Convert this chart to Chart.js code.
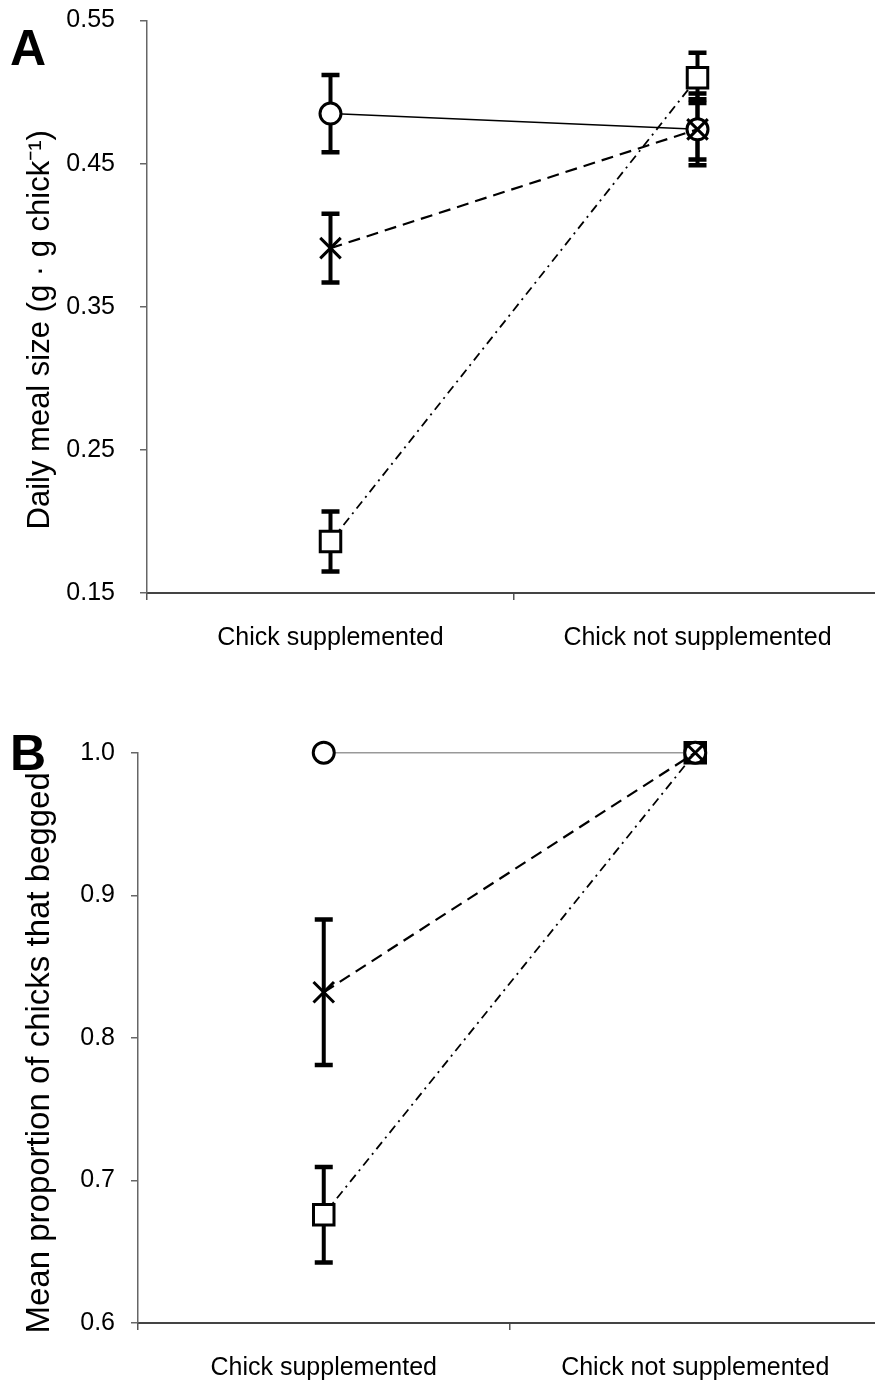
<!DOCTYPE html>
<html>
<head>
<meta charset="utf-8">
<script src="https://cdn.jsdelivr.net/npm/chart.js@4.4.1/dist/chart.umd.min.js"></script>
<style>
  body { margin: 0; background: #fff; overflow: hidden; }
  #wrap { position: relative; width: 882px; height: 1385px; }
  canvas { position: absolute; left: 0; display: block; }
  #chartA { top: 0; }
  #chartB { top: 690px; }
  .tag { position: absolute; left: 10px; font: bold 50px "Liberation Sans", Arial, sans-serif; line-height: 50px; color: #000; }
</style>
</head>
<body>
<div id="wrap">
  <canvas id="chartA" width="882" height="690"></canvas>
  <canvas id="chartB" width="882" height="695"></canvas>
  <div class="tag" style="top:23px">A</div>
  <div class="tag" style="top:728px">B</div>
</div>
<script>
// =======================
// DATA
// =======================
const categories = ["Chick supplemented", "Chick not supplemented"];

// panel A - daily meal size
const ticksA = [0.15, 0.25, 0.35, 0.45, 0.55];
const mealCircle = [0.485, 0.474];
const mealCircleErr = [0.027, 0.021];
const mealCross = [0.391, 0.474];
const mealCrossErr = [0.024, 0.025];
const mealSquare = [0.186, 0.510];
const mealSquareErr = [0.021, 0.0175];

// panel B - proportion that begged
const ticksB = [0.6, 0.7, 0.8, 0.9, 1.0];
const begCircle = [1.0, 1.0];
const begCross = [0.832, 1.0];
const begCrossErr = [0.051, 0];
const begSquare = [0.676, 1.0];
const begSquareErr = [0.0335, 0];

const FONT = "'Liberation Sans', Arial, sans-serif";

// =======================
// ERROR BAR PLUGIN
// =======================
const errorBars = {
    id: "errorBars",
    beforeDatasetsDraw(chart) {
        const ctx = chart.ctx;
        const y = chart.scales.y;
        chart.data.datasets.forEach((ds, di) => {
            if (!ds.errors) return;
            const meta = chart.getDatasetMeta(di);
            ds.data.forEach((v, i) => {
                const e = ds.errors[i];
                if (!e) return;
                const x = meta.data[i].x;
                const top = y.getPixelForValue(v + e);
                const bot = y.getPixelForValue(v - e);
                ctx.save();
                ctx.strokeStyle = "#000";
                ctx.lineWidth = 4;
                ctx.beginPath();
                ctx.moveTo(x, top);
                ctx.lineTo(x, bot);
                ctx.stroke();
                ctx.lineWidth = 4.5;
                ctx.beginPath();
                ctx.moveTo(x - 9, top);
                ctx.lineTo(x + 9, top);
                ctx.moveTo(x - 9, bot);
                ctx.lineTo(x + 9, bot);
                ctx.stroke();
                ctx.restore();
            });
        });
    }
};

// =======================
// ROTATED Y TITLE
// =======================
const sideTitle = {
    id: "sideTitle",
    afterDraw(chart, args, opts) {
        const ctx = chart.ctx;
        const a = chart.chartArea;
        ctx.save();
        ctx.translate(opts.x, (a.top + a.bottom) / 2 + opts.shift);
        ctx.rotate(-Math.PI / 2);
        ctx.textAlign = "center";
        ctx.textBaseline = "middle";
        ctx.fillStyle = "#000";
        ctx.font = opts.size + "px " + FONT;
        ctx.fillText(opts.text, 0, 0);
        ctx.restore();
    }
};

function series(data, errors, style, radius, dash, color, width, order) {
    return {
        data: data,
        errors: errors,
        borderColor: color,
        borderWidth: width,
        borderDash: dash,
        pointStyle: style,
        pointRadius: radius,
        pointBorderWidth: 3,
        pointBorderColor: "#000",
        pointBackgroundColor: "#fff",
        clip: false,
        order: order
    };
}

function makeOptions(yTicks, digits, title, yWidth, xHeight, topPad, tickPad) {
    return {
        responsive: false,
        animation: false,
        layout: { autoPadding: false, padding: { top: topPad, right: 1, left: 0, bottom: 0 } },
        plugins: { legend: { display: false }, tooltip: { enabled: false }, sideTitle: title },
        scales: {
            x: {
                type: "category",
                offset: true,
                grid: { offset: true, drawOnChartArea: false, tickLength: 7, color: "#555", lineWidth: 1.5 },
                border: { color: "#444", width: 2 },
                ticks: { color: "#000", padding: 23, font: { family: FONT, size: 25 }, maxRotation: 0 },
                afterFit: s => { s.height = xHeight; s.paddingLeft = 0; s.paddingRight = 0; }
            },
            y: {
                min: yTicks[0],
                max: yTicks[yTicks.length - 1],
                afterBuildTicks: s => { s.ticks = yTicks.map(v => ({ value: v })); },
                grid: { drawOnChartArea: false, tickLength: 7, color: "#666", lineWidth: 1.5 },
                border: { color: "#666", width: 1.5 },
                ticks: {
                    color: "#000",
                    padding: tickPad,
                    font: { family: FONT, size: 25 },
                    callback: v => Number(v).toFixed(digits)
                },
                afterFit: s => { s.width = yWidth; s.paddingTop = 0; s.paddingBottom = 0; }
            }
        }
    };
}

// =======================
// PANEL A
// =======================
new Chart(document.getElementById("chartA"), {
    type: "line",
    data: {
        labels: categories,
        datasets: [
            series(mealSquare, mealSquareErr, "rect", 14.5, [9, 5, 2, 5], "#000", 1.8, 3),
            series(mealCircle, mealCircleErr, "circle", 10.5, [], "#000", 1.5, 2),
            series(mealCross, mealCrossErr, "crossRot", 14.5, [12, 7], "#000", 2.2, 1)
        ]
    },
    options: makeOptions(ticksA, 2,
        { text: "Daily meal size (g \u00b7 g chick\u207b\u00b9)", size: 31, x: 40, shift: 23 },
        147, 97, 20.6, 25),
    plugins: [errorBars, sideTitle]
});

// =======================
// PANEL B
// =======================
new Chart(document.getElementById("chartB"), {
    type: "line",
    data: {
        labels: categories,
        datasets: [
            series(begSquare, begSquareErr, "rect", 14.5, [9, 5, 2, 5], "#000", 1.8, 3),
            series(begCircle, null, "circle", 10.5, [], "#999", 1.5, 2),
            series(begCross, begCrossErr, "crossRot", 14.5, [12, 7], "#000", 2.2, 1)
        ]
    },
    options: makeOptions(ticksB, 1,
        { text: "Mean proportion of chicks that begged", size: 33, x: 40, shift: 15 },
        138, 62, 62.7, 16),
    plugins: [errorBars, sideTitle]
});
</script>
</body>
</html>
